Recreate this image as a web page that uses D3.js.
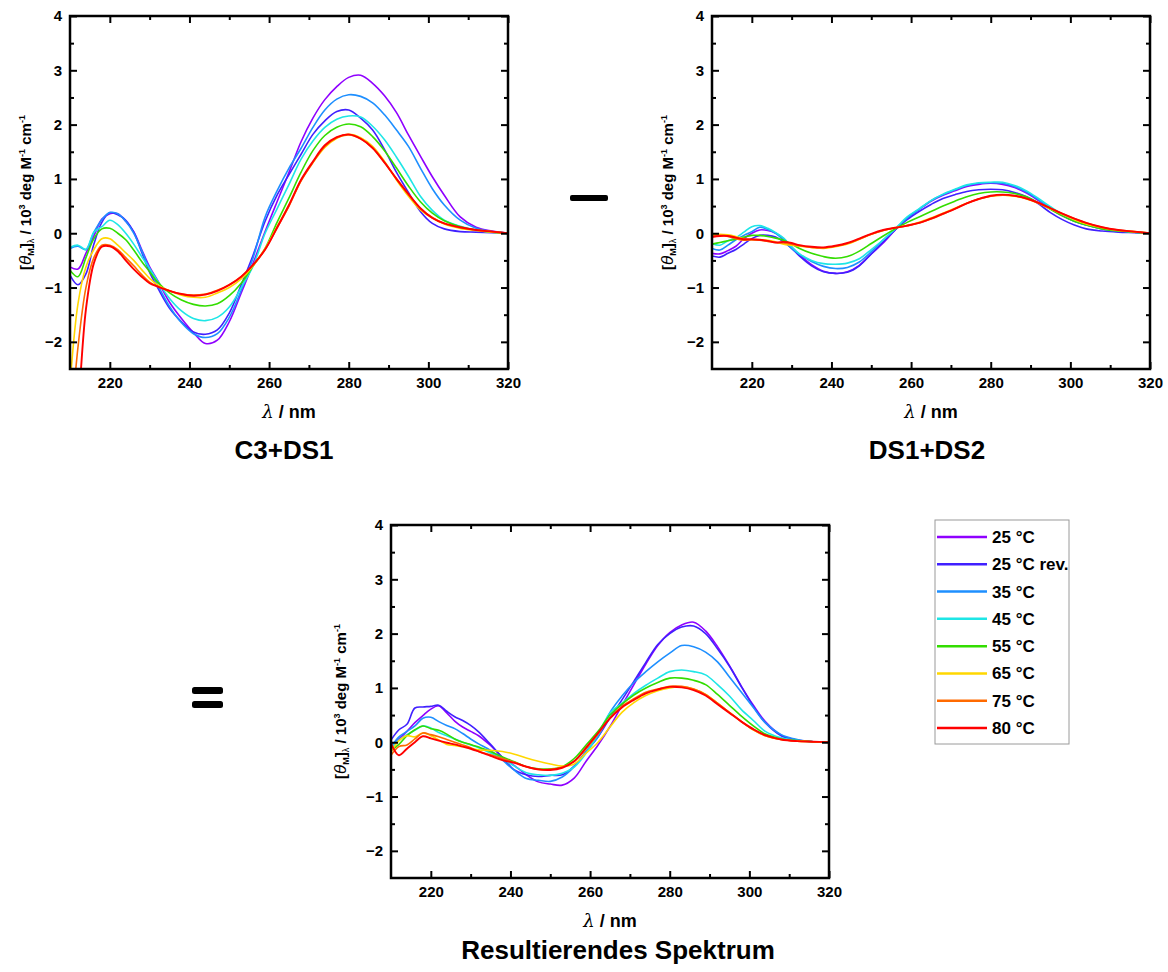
<!DOCTYPE html>
<html>
<head>
<meta charset="utf-8">
<script src="https://cdn.jsdelivr.net/npm/d3@7"></script>
<style>
  html, body { margin: 0; padding: 0; background: #fff; }
  svg { display: block; }
  text { font-family: Arial, "Liberation Sans", sans-serif; }
</style>
</head>
<body>
<svg id="chart" width="1168" height="972"></svg>
<script>
// ---------------- DATA ----------------
const wavelengths = [210,212,214,216,218,220,222,224,226,228,230,232,235,238,241,244,247,250,253,256,259,262,265,268,271,274,277,280,283,286,289,292,295,298,301,304,308,312,316,320];

const seriesLabels = ["25 °C", "25 °C rev.", "35 °C", "45 °C", "55 °C", "65 °C", "75 °C", "80 °C"];
const seriesColors = ["#8f00ff", "#4020ff", "#1e8fff", "#1ee6e6", "#33dd00", "#ffd700", "#ff6a00", "#ff0000"];

const xTickLabels = [220, 240, 260, 280, 300, 320];
const yTickLabels = [-2, -1, 0, 1, 2, 3, 4];

// Panel "C3+DS1"
const c3ds1_25    = [-0.62,-0.66,-0.37,-0.05,0.26,0.36,0.36,0.22,0.03,-0.3,-0.62,-0.87,-1.27,-1.57,-1.83,-2.03,-1.97,-1.63,-1.1,-0.55,0.03,0.58,1.12,1.68,2.12,2.46,2.7,2.87,2.91,2.76,2.53,2.22,1.81,1.42,1.04,0.7,0.3,0.11,0.04,0];
const c3ds1_25rev = [-0.77,-0.95,-0.75,-0.2,0.2,0.38,0.34,0.24,0.02,-0.35,-0.72,-1.0,-1.38,-1.63,-1.82,-1.86,-1.78,-1.47,-0.95,-0.4,0.22,0.7,1.08,1.45,1.82,2.07,2.24,2.27,2.12,1.9,1.54,1.12,0.75,0.4,0.18,0.08,0.03,0.02,0.01,0];
const c3ds1_35    = [-0.28,-0.24,-0.3,0.02,0.25,0.38,0.36,0.22,0.0,-0.32,-0.66,-0.95,-1.35,-1.65,-1.85,-1.92,-1.85,-1.55,-1.05,-0.45,0.3,0.78,1.2,1.56,1.95,2.27,2.47,2.55,2.52,2.4,2.18,1.9,1.6,1.2,0.82,0.52,0.24,0.09,0.03,0];
const c3ds1_45    = [-0.26,-0.22,-0.3,0.02,0.12,0.24,0.16,0.0,-0.2,-0.43,-0.65,-0.88,-1.2,-1.43,-1.57,-1.61,-1.55,-1.36,-1.0,-0.6,0.0,0.45,0.9,1.36,1.7,1.95,2.1,2.16,2.14,1.97,1.72,1.4,1.05,0.68,0.42,0.24,0.13,0.06,0.02,0];
const c3ds1_55    = [-0.68,-0.8,-0.45,-0.1,0.08,0.09,0.0,-0.12,-0.31,-0.52,-0.71,-0.9,-1.1,-1.23,-1.31,-1.34,-1.3,-1.15,-0.92,-0.6,-0.28,0.2,0.65,1.12,1.52,1.8,1.95,2.01,1.96,1.78,1.52,1.2,0.87,0.58,0.37,0.23,0.12,0.06,0.02,0];
const c3ds1_65    = [-2.8,-1.3,-0.62,-0.3,-0.1,-0.1,-0.22,-0.36,-0.5,-0.67,-0.83,-0.95,-1.06,-1.14,-1.18,-1.18,-1.1,-1.0,-0.84,-0.6,-0.28,0.12,0.52,0.97,1.3,1.58,1.75,1.82,1.76,1.6,1.32,0.98,0.68,0.43,0.28,0.17,0.09,0.05,0.02,0];
const c3ds1_75    = [-3.8,-2.1,-1.0,-0.45,-0.22,-0.22,-0.3,-0.45,-0.6,-0.76,-0.9,-0.98,-1.06,-1.12,-1.14,-1.12,-1.05,-0.95,-0.8,-0.58,-0.3,0.1,0.5,0.96,1.3,1.6,1.76,1.81,1.74,1.57,1.3,1.0,0.72,0.46,0.29,0.18,0.1,0.06,0.03,0];
const c3ds1_80    = [-5.0,-3.3,-1.4,-0.55,-0.25,-0.24,-0.33,-0.5,-0.66,-0.8,-0.92,-0.98,-1.06,-1.12,-1.15,-1.13,-1.06,-0.95,-0.8,-0.58,-0.3,0.1,0.52,0.98,1.32,1.62,1.77,1.82,1.74,1.57,1.3,1.0,0.72,0.46,0.28,0.18,0.11,0.06,0.03,0];

// Panel "DS1+DS2"
const ds1ds2_25    = [-0.37,-0.38,-0.32,-0.24,-0.1,0.0,0.06,0.05,0.0,-0.1,-0.25,-0.4,-0.58,-0.7,-0.74,-0.71,-0.59,-0.38,-0.18,0.06,0.28,0.44,0.59,0.7,0.78,0.86,0.9,0.92,0.9,0.84,0.74,0.6,0.45,0.32,0.22,0.15,0.08,0.04,0.02,0];
const ds1ds2_25rev = [-0.42,-0.44,-0.37,-0.3,-0.2,-0.1,-0.04,-0.04,-0.07,-0.16,-0.28,-0.42,-0.6,-0.71,-0.74,-0.72,-0.6,-0.38,-0.16,0.06,0.25,0.4,0.53,0.64,0.71,0.77,0.8,0.81,0.8,0.75,0.67,0.54,0.38,0.25,0.15,0.08,0.04,0.02,0.01,0];
const ds1ds2_35    = [-0.28,-0.31,-0.22,-0.12,-0.04,0.03,0.11,0.07,0.0,-0.13,-0.28,-0.39,-0.52,-0.61,-0.65,-0.63,-0.53,-0.34,-0.12,0.08,0.28,0.44,0.6,0.71,0.8,0.88,0.92,0.93,0.92,0.86,0.76,0.62,0.47,0.33,0.22,0.15,0.08,0.04,0.02,0];
const ds1ds2_45    = [-0.19,-0.22,-0.14,-0.08,0.02,0.12,0.14,0.09,0.01,-0.09,-0.25,-0.38,-0.5,-0.56,-0.57,-0.55,-0.47,-0.3,-0.12,0.08,0.3,0.45,0.6,0.72,0.81,0.89,0.93,0.94,0.94,0.88,0.78,0.64,0.49,0.35,0.24,0.16,0.09,0.05,0.02,0];
const ds1ds2_55    = [-0.2,-0.17,-0.14,-0.11,-0.07,-0.04,-0.04,-0.06,-0.09,-0.13,-0.2,-0.28,-0.37,-0.43,-0.46,-0.43,-0.33,-0.19,-0.05,0.08,0.2,0.3,0.4,0.5,0.59,0.67,0.73,0.76,0.76,0.73,0.67,0.56,0.44,0.32,0.22,0.15,0.08,0.04,0.02,0];
const ds1ds2_65    = [-0.03,-0.02,-0.03,-0.06,-0.1,-0.12,-0.12,-0.13,-0.16,-0.2,-0.22,-0.24,-0.26,-0.28,-0.25,-0.2,-0.11,-0.02,0.05,0.1,0.14,0.2,0.28,0.37,0.46,0.55,0.63,0.68,0.7,0.68,0.63,0.55,0.45,0.35,0.25,0.17,0.1,0.05,0.03,0];
const ds1ds2_75    = [-0.05,-0.04,-0.06,-0.1,-0.13,-0.12,-0.13,-0.15,-0.17,-0.18,-0.2,-0.23,-0.26,-0.27,-0.24,-0.19,-0.11,-0.02,0.05,0.1,0.14,0.19,0.26,0.35,0.45,0.55,0.63,0.68,0.7,0.69,0.64,0.56,0.46,0.36,0.27,0.19,0.11,0.06,0.03,0];
const ds1ds2_80    = [-0.07,-0.05,-0.05,-0.08,-0.11,-0.11,-0.12,-0.14,-0.17,-0.16,-0.18,-0.22,-0.25,-0.26,-0.23,-0.18,-0.1,-0.01,0.06,0.1,0.14,0.19,0.27,0.36,0.45,0.55,0.63,0.69,0.71,0.69,0.64,0.56,0.46,0.36,0.27,0.19,0.11,0.06,0.03,0];

// Panel "Resultierendes Spektrum"
const result_25    = [-0.06,0.06,0.2,0.36,0.49,0.61,0.67,0.54,0.39,0.28,0.2,0.12,-0.06,-0.28,-0.43,-0.6,-0.73,-0.77,-0.79,-0.66,-0.35,-0.05,0.29,0.68,1.06,1.44,1.78,2.02,2.16,2.21,2.05,1.76,1.41,1.03,0.68,0.38,0.13,0.04,0.01,0];
const result_25rev = [0.04,0.23,0.33,0.63,0.65,0.66,0.68,0.57,0.47,0.4,0.31,0.19,-0.04,-0.28,-0.51,-0.6,-0.63,-0.61,-0.6,-0.44,-0.17,0.1,0.45,0.78,1.12,1.47,1.8,2.0,2.12,2.14,2.0,1.72,1.4,1.02,0.66,0.36,0.12,0.04,0.01,0];
const result_35    = [-0.09,0.1,0.2,0.3,0.44,0.46,0.38,0.31,0.25,0.16,0.06,-0.03,-0.15,-0.33,-0.52,-0.67,-0.7,-0.72,-0.64,-0.45,-0.17,0.1,0.55,0.85,1.1,1.3,1.48,1.64,1.78,1.76,1.66,1.48,1.2,0.92,0.64,0.36,0.14,0.05,0.01,0];
const result_45    = [-0.12,0.04,0.14,0.22,0.3,0.26,0.18,0.12,0.06,0.0,-0.05,-0.1,-0.2,-0.3,-0.44,-0.56,-0.6,-0.61,-0.57,-0.46,-0.2,0.15,0.54,0.72,0.9,1.05,1.18,1.3,1.33,1.3,1.24,1.06,0.85,0.6,0.4,0.2,0.08,0.03,0.01,0];
const result_55    = [-0.15,-0.04,0.12,0.23,0.3,0.25,0.22,0.15,0.06,0.0,-0.04,-0.09,-0.17,-0.27,-0.36,-0.45,-0.49,-0.49,-0.45,-0.3,-0.05,0.2,0.5,0.7,0.87,1.0,1.1,1.18,1.18,1.14,1.06,0.88,0.68,0.48,0.3,0.15,0.06,0.03,0.01,0];
const result_65    = [-0.18,0.03,0.12,0.1,0.17,0.12,0.04,-0.04,-0.06,-0.08,-0.11,-0.14,-0.15,-0.17,-0.22,-0.29,-0.35,-0.4,-0.44,-0.4,-0.2,0.0,0.28,0.55,0.73,0.86,0.95,1.0,1.02,0.98,0.88,0.72,0.55,0.38,0.23,0.12,0.05,0.02,0.01,0];
const result_75    = [-0.24,-0.08,-0.05,0.06,0.17,0.14,0.1,0.05,0.0,-0.05,-0.1,-0.17,-0.23,-0.3,-0.37,-0.45,-0.5,-0.5,-0.46,-0.35,-0.12,0.15,0.45,0.66,0.8,0.92,0.98,1.03,1.03,0.98,0.88,0.72,0.55,0.38,0.23,0.12,0.05,0.02,0.01,0];
const result_80    = [-0.02,-0.24,-0.12,0.0,0.11,0.07,0.03,-0.01,-0.04,-0.08,-0.12,-0.17,-0.25,-0.33,-0.38,-0.45,-0.5,-0.51,-0.47,-0.35,-0.1,0.17,0.44,0.64,0.78,0.9,0.97,1.02,1.01,0.96,0.86,0.7,0.54,0.38,0.24,0.13,0.05,0.02,0.01,0];

const panelC3DS1  = [c3ds1_25, c3ds1_25rev, c3ds1_35, c3ds1_45, c3ds1_55, c3ds1_65, c3ds1_75, c3ds1_80];
const panelDS1DS2 = [ds1ds2_25, ds1ds2_25rev, ds1ds2_35, ds1ds2_45, ds1ds2_55, ds1ds2_65, ds1ds2_75, ds1ds2_80];
const panelResult = [result_25, result_25rev, result_35, result_45, result_55, result_65, result_75, result_80];

// ---------------- DRAWING ----------------
const svg = d3.select("#chart");
svg.append("rect").attr("width", 1168).attr("height", 972).attr("fill", "#fff");

function drawPanel(cfg, idx) {
  const { left, top, width, height, series, title, titleX, titleY, yLabelX } = cfg;
  const right = left + width, bottom = top + height;
  const x = d3.scaleLinear().domain([210, 320]).range([left, right]);
  const y = d3.scaleLinear().domain([-2.5, 4]).range([bottom, top]);
  const g = svg.append("g");

  const clipId = "clip" + idx;
  svg.append("clipPath").attr("id", clipId)
    .append("rect").attr("x", left).attr("y", top).attr("width", width).attr("height", height);

  const line = d3.line()
    .x((d, i) => x(wavelengths[i]))
    .y(d => y(d))
    .curve(d3.curveCatmullRom.alpha(0.5));

  const lines = g.append("g").attr("clip-path", `url(#${clipId})`);
  series.forEach((vals, i) => {
    lines.append("path")
      .attr("d", line(vals))
      .attr("fill", "none")
      .attr("stroke", seriesColors[i])
      .attr("stroke-width", i === 7 ? 1.9 : 1.6)
      .attr("stroke-linejoin", "round");
  });

  const styleAxis = a => {
    a.select(".domain").remove();
    a.selectAll(".tick line").attr("stroke", "#000").attr("stroke-width", 2);
    a.selectAll("text").attr("font-size", 15).attr("font-weight", "bold").attr("fill", "#000")
      .attr("font-family", "Arial, 'Liberation Sans', sans-serif");
  };
  const xMinor = [230, 250, 270, 290, 310];
  const yMinor = [-1.5, -0.5, 0.5, 1.5, 2.5, 3.5];

  g.append("g").attr("transform", `translate(0,${bottom})`)
    .call(d3.axisBottom(x).tickValues(xTickLabels).tickSize(-7).tickPadding(8).tickFormat(d3.format("d")))
    .call(styleAxis);
  g.append("g").attr("transform", `translate(0,${bottom})`)
    .call(d3.axisBottom(x).tickValues(xMinor).tickSize(-4).tickFormat(""))
    .call(styleAxis);
  g.append("g").attr("transform", `translate(0,${top})`)
    .call(d3.axisTop(x).tickValues(xTickLabels).tickSize(-7).tickFormat(""))
    .call(styleAxis);
  g.append("g").attr("transform", `translate(0,${top})`)
    .call(d3.axisTop(x).tickValues(xMinor).tickSize(-4).tickFormat(""))
    .call(styleAxis);
  g.append("g").attr("transform", `translate(${left},0)`)
    .call(d3.axisLeft(y).tickValues(yTickLabels).tickSize(-7).tickPadding(8).tickFormat(d3.format("d")))
    .call(styleAxis);
  g.append("g").attr("transform", `translate(${left},0)`)
    .call(d3.axisLeft(y).tickValues(yMinor).tickSize(-4).tickFormat(""))
    .call(styleAxis);
  g.append("g").attr("transform", `translate(${right},0)`)
    .call(d3.axisRight(y).tickValues(yTickLabels).tickSize(-7).tickFormat(""))
    .call(styleAxis);
  g.append("g").attr("transform", `translate(${right},0)`)
    .call(d3.axisRight(y).tickValues(yMinor).tickSize(-4).tickFormat(""))
    .call(styleAxis);

  g.append("rect").attr("x", left).attr("y", top).attr("width", width).attr("height", height)
    .attr("fill", "none").attr("stroke", "#000").attr("stroke-width", 2.5);

  // x label
  const xl = g.append("text").attr("x", (left + right) / 2).attr("y", bottom + 49)
    .attr("text-anchor", "middle").attr("font-size", 18).attr("font-weight", "bold");
  xl.append("tspan").attr("font-style", "italic").attr("font-weight", "normal")
    .attr("font-family", "'DejaVu Serif', serif").text("λ");
  xl.append("tspan").text(" / nm");

  // y label
  const yl = g.append("text")
    .attr("transform", `translate(${yLabelX},${(top + bottom) / 2}) rotate(-90)`)
    .attr("text-anchor", "middle").attr("font-size", 15).attr("font-weight", "bold");
  yl.append("tspan").text("[");
  yl.append("tspan").attr("font-style", "italic").attr("font-weight", "normal").attr("font-size", 17).text("θ");
  yl.append("tspan").attr("font-size", 9).attr("dy", 3).text("M");
  yl.append("tspan").attr("dy", -3).text("]");
  yl.append("tspan").attr("font-size", 9).attr("font-weight", "normal").attr("dy", 3).text("λ");
  yl.append("tspan").attr("dy", -3).text(" / 10");
  yl.append("tspan").attr("font-size", 9).attr("dy", -6).text("3");
  yl.append("tspan").attr("dy", 6).text(" deg M");
  yl.append("tspan").attr("font-size", 9).attr("dy", -6).text("-1");
  yl.append("tspan").attr("dy", 6).text(" cm");
  yl.append("tspan").attr("font-size", 9).attr("dy", -6).text("-1");

  // title
  g.append("text").attr("x", titleX).attr("y", titleY).attr("text-anchor", "middle")
    .attr("font-size", 26).attr("font-weight", "bold").text(title);
}

drawPanel({ left: 70, top: 16, width: 438, height: 353, series: panelC3DS1, title: "C3+DS1", titleX: 284, titleY: 459, yLabelX: 31 }, 0);
drawPanel({ left: 712, top: 16, width: 438, height: 353, series: panelDS1DS2, title: "DS1+DS2", titleX: 927, titleY: 459, yLabelX: 673 }, 1);
drawPanel({ left: 391, top: 525, width: 438, height: 353, series: panelResult, title: "Resultierendes Spektrum", titleX: 618, titleY: 959, yLabelX: 346 }, 2);

// operators
svg.append("rect").attr("x", 570).attr("y", 195).attr("width", 38).attr("height", 6).attr("rx", 2).attr("fill", "#000");
svg.append("rect").attr("x", 192).attr("y", 687).attr("width", 31).attr("height", 7).attr("rx", 2.5).attr("fill", "#000");
svg.append("rect").attr("x", 192).attr("y", 701).attr("width", 31).attr("height", 7).attr("rx", 2.5).attr("fill", "#000");

// legend
const legend = svg.append("g");
legend.append("rect").attr("x", 935).attr("y", 520).attr("width", 134).attr("height", 224)
  .attr("fill", "#fff").attr("stroke", "#9a9a9a").attr("stroke-width", 1);
const rowY = d3.scaleLinear().domain([0, 7]).range([537, 728]);
seriesLabels.forEach((lab, i) => {
  legend.append("line").attr("x1", 937).attr("x2", 987).attr("y1", rowY(i)).attr("y2", rowY(i))
    .attr("stroke", seriesColors[i]).attr("stroke-width", 2.5);
  legend.append("text").attr("x", 992).attr("y", rowY(i) + 6).attr("font-size", 17)
    .attr("font-weight", "bold").text(lab);
});
</script>
</body>
</html>
